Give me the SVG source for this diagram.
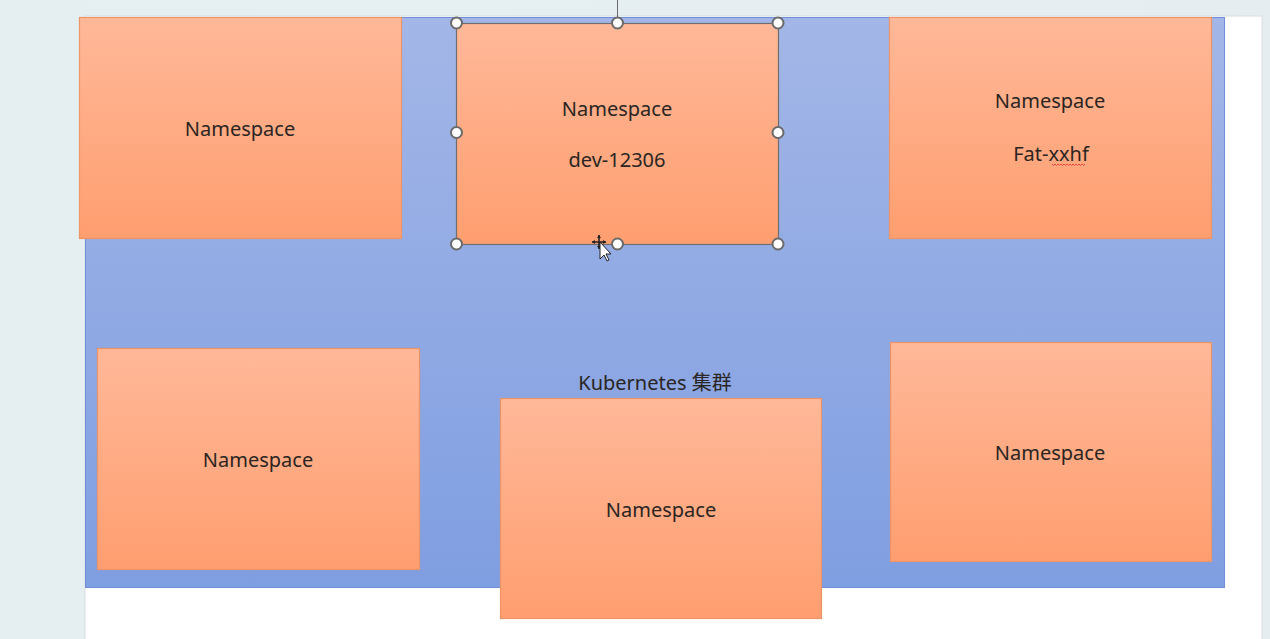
<svg xmlns="http://www.w3.org/2000/svg" width="1270" height="639" viewBox="0 0 1270 639">
  <style>
    .ns rect { fill: url(#orange); stroke: #ec9468; stroke-width: 1.2; }
    text { font-family: "Noto Sans", "Noto Sans CJK SC", sans-serif; font-size: 20px; fill: #2a2522; text-anchor: middle; }
    .handle { fill: #ffffff; stroke: #6a6a6a; stroke-width: 2; }
  </style>
  <defs>
    <linearGradient id="orange" x1="0" y1="0" x2="0" y2="1">
      <stop offset="0" stop-color="#ffb898"/>
      <stop offset="1" stop-color="#ff9e70"/>
    </linearGradient>
    <linearGradient id="blue" x1="0" y1="0" x2="0" y2="1">
      <stop offset="0" stop-color="#a3b6e7"/>
      <stop offset="1" stop-color="#7f9ee1"/>
    </linearGradient>
    <linearGradient id="bg" x1="0" y1="0" x2="1" y2="0">
      <stop offset="0" stop-color="#e5eff1"/>
      <stop offset="1" stop-color="#e6edf1"/>
    </linearGradient>
  </defs>

  <!-- workspace background -->
  <rect x="0" y="0" width="1270" height="639" fill="url(#bg)"/>
  <!-- slide -->
  <rect x="85" y="16" width="1177" height="630" fill="#ffffff" stroke="#d8dde0" stroke-width="1"/>

  <!-- Kubernetes cluster -->
  <g id="cluster">
    <rect x="85.5" y="17.5" width="1139" height="570" fill="url(#blue)" stroke="#6f8fdc" stroke-width="1"/>
    <text x="655" y="390">Kubernetes 集群</text>
  </g>

  <g id="ns-top-left" class="ns">
    <rect x="79.5" y="17.5" width="322" height="221"/>
    <text x="240" y="136">Namespace</text>
  </g>

  <g id="ns-dev" class="ns">
    <rect x="456.5" y="23.5" width="322" height="221" style="stroke:#6e6e6e"/>
    <text x="617" y="116">Namespace</text>
    <text x="617" y="167">dev-12306</text>
  </g>

  <g id="ns-fat" class="ns">
    <rect x="889.5" y="17.5" width="322" height="221"/>
    <text x="1050" y="108">Namespace</text>
    <text x="1051" y="161">Fat-xxhf</text>
    <path d="M1052 164 l1.5 1.5 l1.5 -1.5 l1.5 1.5 l1.5 -1.5 l1.5 1.5 l1.5 -1.5 l1.5 1.5 l1.5 -1.5 l1.5 1.5 l1.5 -1.5 l1.5 1.5 l1.5 -1.5 l1.5 1.5 l1.5 -1.5 l1.5 1.5 l1.5 -1.5 l1.5 1.5 l1.5 -1.5 l1.5 1.5 l1.5 -1.5 l1.5 1.5 l1.5 -1.5" fill="none" stroke="#e03030" stroke-width="0.8"/>
  </g>

  <g id="ns-bottom-left" class="ns">
    <rect x="97.5" y="348.5" width="322" height="221"/>
    <text x="258" y="467">Namespace</text>
  </g>

  <g id="ns-bottom-center" class="ns">
    <rect x="500.5" y="398.5" width="321" height="220"/>
    <text x="661" y="517">Namespace</text>
  </g>

  <g id="ns-bottom-right" class="ns">
    <rect x="890.5" y="342.5" width="321" height="219"/>
    <text x="1050" y="460">Namespace</text>
  </g>

  <!-- selection handles -->
  <g id="connectors">
    <line x1="617.5" y1="0" x2="617.5" y2="23" stroke="#6a6a6a" stroke-width="1"/>
  </g>
  <g id="selection">
    <circle class="handle" cx="456.5" cy="23" r="5.5"/>
    <circle class="handle" cx="617.5" cy="23" r="5.5"/>
    <circle class="handle" cx="778" cy="23" r="5.5"/>
    <circle class="handle" cx="456.5" cy="132.5" r="5.5"/>
    <circle class="handle" cx="778" cy="132.5" r="5.5"/>
    <circle class="handle" cx="456.5" cy="244" r="5.5"/>
    <circle class="handle" cx="617.5" cy="244" r="5.5"/>
    <circle class="handle" cx="778" cy="244" r="5.5"/>
  </g>

  <!-- mouse cursor -->
  <g id="cursor">
    <path d="M599 235 v14 M592 242 h14" stroke="#222" stroke-width="1.6" fill="none"/>
    <path d="M599 235 l-2 3 h4 z M599 249 l-2 -3 h4 z M592 242 l3 -2 v4 z M606 242 l-3 -2 v4 z" fill="#222"/>
    <path d="M600 242 v17 l4 -4 l3 6 l2 -1 l-3 -6 h5 z" fill="#ffffff" stroke="#222" stroke-width="1"/>
  </g>
</svg>
